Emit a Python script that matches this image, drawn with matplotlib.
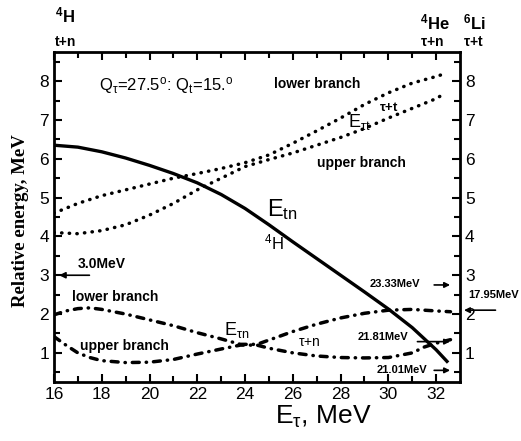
import matplotlib
matplotlib.use("Agg")
import matplotlib.pyplot as plt

plt.rcParams['font.family'] = ['Liberation Sans', 'DejaVu Sans']
plt.rcParams['mathtext.fontset'] = 'custom'
plt.rcParams['mathtext.rm'] = 'Liberation Sans'
plt.rcParams['mathtext.it'] = 'Liberation Sans'
plt.rcParams['mathtext.bf'] = 'Liberation Sans:bold'

# E_tn (4H, t+n), solid
x_tn = [16, 17, 18, 19, 20, 21, 22, 23, 24, 25, 26, 27, 28, 29, 30, 31, 32, 32.5]
y_tn = [6.35, 6.3, 6.18, 6.02, 5.83, 5.62, 5.38, 5.08, 4.72, 4.3, 3.86, 3.43, 3.0, 2.57, 2.13, 1.65, 1.08, 0.75]

# E_tau-t (6Li, tau+t), dotted, two branches
x_tt = [16, 17, 18, 19, 20, 21, 22, 23, 24, 25, 26, 27, 28, 29, 30, 31, 32, 32.4]
y_tt_a = [4.6, 4.85, 5.05, 5.2, 5.35, 5.5, 5.62, 5.75, 5.9, 6.1, 6.4, 6.72, 7.05, 7.4, 7.7, 7.95, 8.12, 8.2]
y_tt_b = [4.1, 4.07, 4.15, 4.3, 4.55, 4.85, 5.2, 5.5, 5.8, 5.98, 6.15, 6.35, 6.55, 6.78, 7.05, 7.3, 7.55, 7.7]

# E_tau-n (4He, tau+n), dash-dot, lower and upper branch
x_tau_n = [16, 16.5, 17, 17.5, 18, 19, 20, 21, 22, 23, 23.8, 24.5, 25, 26, 27, 28, 29, 30, 31, 31.5, 32, 32.6]
y_tau_n_low = [1.98, 2.08, 2.14, 2.16, 2.12, 2.0, 1.85, 1.7, 1.52, 1.36, 1.22, 1.22, 1.33, 1.55, 1.74, 1.9, 2.02, 2.1, 2.12, 2.1, 2.08, 2.06]
y_tau_n_up = [1.42, 1.2, 1.0, 0.88, 0.8, 0.75, 0.76, 0.83, 0.97, 1.1, 1.2, 1.2, 1.12, 1.0, 0.92, 0.88, 0.87, 0.88, 1.0, 1.15, 1.25, 1.34]

fig = plt.figure(figsize=(5.21, 4.41), dpi=100)
ax = fig.add_axes([0.1036, 0.1338, 0.7794, 0.7482])

ax.plot(x_tn, y_tn, color='black', lw=2.4, solid_capstyle='butt')
dots = (0, (0.1, 2.1))
ax.plot(x_tt, y_tt_a, color='black', lw=2.5, linestyle=dots, dash_capstyle='round')
ax.plot(x_tt, y_tt_b, color='black', lw=2.5, linestyle=dots, dash_capstyle='round')
dashdot = (0, (2.0, 2.0, 0.1, 2.0))
ax.plot(x_tau_n, y_tau_n_low, color='black', lw=2.5, linestyle=dashdot, dash_capstyle='round')
ax.plot(x_tau_n, y_tau_n_up, color='black', lw=2.5, linestyle=dashdot, dash_capstyle='round')

ax.set_xlim(16, 33)
ax.set_ylim(0.25, 8.75)
ax.set_xticks([16, 18, 20, 22, 24, 26, 28, 30, 32])
ax.set_xticks(range(17, 33, 2), minor=True)
ax.set_yticks(range(1, 9))
ax.set_yticks([0.5 + i for i in range(9)], minor=True)
ax.tick_params(which='both', direction='in', top=True, right=True, labelright=True,
               width=1.5, labelsize=12.5)
ax.tick_params(which='major', length=6)
ax.tick_params(which='minor', length=4)
for s in ax.spines.values():
    s.set_linewidth(2)

fig.text(0.04, 0.5, 'Relative energy, MeV', rotation=90, ha='center', va='center',
         family='Liberation Serif', weight='bold', fontsize=13.5)
fig.text(0.62, 0.055, r'$\mathregular{E_\tau}$, MeV', ha='center', va='center', fontsize=19)

# annotations inside the plot
ax.text(17.9, 7.9, r'$\mathregular{Q_\tau}$=27.5$\mathregular{^o}$: $\mathregular{Q_t}$=15.$\mathregular{^o}$',
        fontsize=12, va='center')
ax.text(25.2, 7.92, 'lower branch', fontsize=10, weight='bold', va='center')
ax.text(29.6, 7.33, r'$\mathregular{\tau}$+t', fontsize=9.5, weight='bold', va='center')
ax.text(28.3, 6.95, r'$\mathregular{E_{\tau t}}$', fontsize=13, va='center')
ax.text(27.0, 5.9, 'upper branch', fontsize=10, weight='bold', va='center')
ax.text(24.9, 4.7, r'$\mathregular{E_{tn}}$', fontsize=17, va='center')
ax.text(24.8, 3.85, r'$\mathregular{^4H}$', fontsize=12, va='center')

ax.text(17.0, 3.3, '3.0MeV', fontsize=10, weight='bold', va='center')
ax.annotate('', xy=(16.1, 3.0), xytext=(17.6, 3.0),
            arrowprops=dict(arrowstyle='-|>', color='black', lw=1.2, mutation_scale=9))
ax.text(16.75, 2.45, 'lower branch', fontsize=10, weight='bold', va='center')
ax.text(17.1, 1.17, 'upper branch', fontsize=10, weight='bold', va='center')
ax.text(23.1, 1.6, r'$\mathregular{E_{\tau n}}$', fontsize=13, va='center')
ax.text(26.2, 1.27, r'$\mathregular{\tau}$+n', fontsize=10, va='center')

ax.text(29.2, 2.78, '23.33MeV', fontsize=8, weight='bold', va='center')
ax.annotate('', xy=(32.7, 2.75), xytext=(31.8, 2.75),
            arrowprops=dict(arrowstyle='-|>', color='black', lw=1.2, mutation_scale=8))
ax.text(28.7, 1.42, '21.81MeV', fontsize=8, weight='bold', va='center')
ax.annotate('', xy=(32.7, 1.29), xytext=(31.1, 1.29),
            arrowprops=dict(arrowstyle='-|>', color='black', lw=1.2, mutation_scale=8))
ax.text(29.5, 0.57, '21.01MeV', fontsize=8, weight='bold', va='center')
ax.annotate('', xy=(32.7, 0.55), xytext=(31.8, 0.55),
            arrowprops=dict(arrowstyle='-|>', color='black', lw=1.2, mutation_scale=8))

ax.annotate('', xy=(33.05, 2.1), xytext=(34.6, 2.1), annotation_clip=False,
            arrowprops=dict(arrowstyle='-|>', color='black', lw=1.2, mutation_scale=8))
fig.text(0.898, 0.331, '17.95MeV', fontsize=8, weight='bold', va='center')

# channel labels above the frame
fig.text(0.106, 0.966, r'$\mathbf{^4H}$', fontsize=12, va='center')
fig.text(0.106, 0.905, 't+n', fontsize=10, weight='bold', va='center')
fig.text(0.806, 0.948, r'$\mathbf{^4He}$', fontsize=12, va='center')
fig.text(0.806, 0.905, r'$\mathbf{\tau}$+n', fontsize=10, weight='bold', va='center')
fig.text(0.888, 0.948, r'$\mathbf{^6Li}$', fontsize=12, va='center')
fig.text(0.888, 0.905, r'$\mathbf{\tau}$+t', fontsize=10, weight='bold', va='center')

fig.savefig('out.png', dpi=100)
